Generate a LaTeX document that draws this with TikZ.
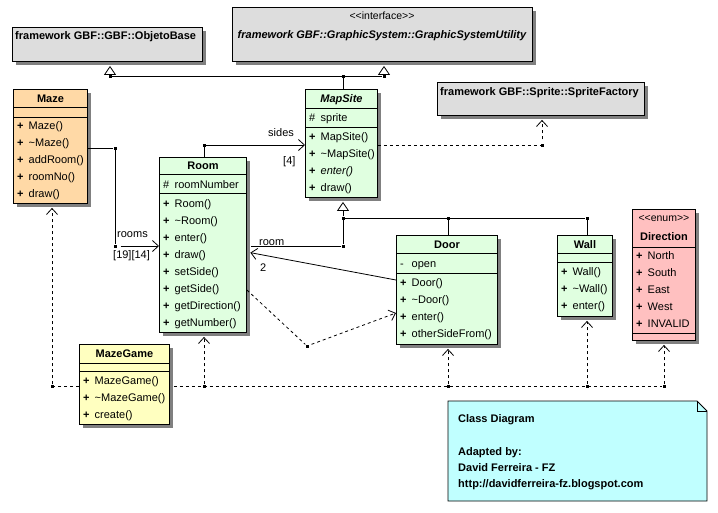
\documentclass[tikz,border=0pt]{standalone}
\usepackage{fontspec}
\setmainfont{Liberation Sans}
\usetikzlibrary{arrows.meta,shadows}

\definecolor{mazeorange}{RGB}{255,217,166}
\definecolor{sitegreen}{RGB}{224,255,224}
\definecolor{gameyellow}{RGB}{255,255,192}
\definecolor{enumpink}{RGB}{255,192,192}
\definecolor{fwgray}{RGB}{221,221,221}
\definecolor{notecyan}{RGB}{192,255,255}

\begin{document}
\begin{tikzpicture}[x=1pt,y=-1pt,
        font=\fontsize{11}{13}\selectfont,
        classbox/.style={draw,line width=0.9pt,anchor=north west,inner sep=0pt,
            general shadow={fill=black!50,shadow xshift=4pt,shadow yshift=-4pt}},
        title/.style={anchor=base,inner sep=0pt,font=\fontsize{11}{13}\selectfont\bfseries},
        stereo/.style={anchor=base,inner sep=0pt,font=\fontsize{10.5}{12}\selectfont},
        member/.style={anchor=base west,inner sep=0pt},
        rolename/.style={member},
        divider/.style={line width=0.9pt},
        wire/.style={line width=0.8pt},
        assoc/.style={wire,-{Straight Barb[length=6pt,width=11pt]}},
        gen/.style={wire,-{Triangle[fill=white,length=9pt,width=12pt]}},
        dep/.style={wire,dash pattern=on 3pt off 3pt,-{Straight Barb[length=6pt,width=11pt]}},
        joint/.style={rectangle,fill,inner sep=0pt,minimum size=3pt}]
    \path[use as bounding box] (0,0) rectangle (718,512);

    % Framework classes on top
    \node[classbox,fill=fwgray,minimum width=190pt,minimum height=34pt] (objbase) at (12,27) {};
    \node[member,font=\fontsize{11}{13}\selectfont\bfseries] (objbase-name) at (15,39) {framework GBF::GBF::ObjetoBase};
    \node[classbox,fill=fwgray,minimum width=300pt,minimum height=54pt] (gsu) at (232,7) {};
    \node[stereo] (gsu-stereo) at (382,19) {<\kern0pt<interface>\kern0pt>};
    \node[title,font=\fontsize{11}{13}\selectfont\bfseries\itshape] (gsu-name) at (382,38) {framework GBF::GraphicSystem::GraphicSystemUtility};
    \node[classbox,fill=fwgray,minimum width=207pt,minimum height=33pt] (sprite) at (437,82) {};
    \node[member,font=\fontsize{11}{13}\selectfont\bfseries] (sprite-name) at (440,95) {framework GBF::Sprite::SpriteFactory};

    % Maze
    \node[classbox,fill=mazeorange,minimum width=74pt,minimum height=114pt] (maze) at (13,89) {};
    \draw[divider] (maze.west |- 0,107) -- (maze.east |- 0,107) (maze.west |- 0,117) -- (maze.east |- 0,117);
    \node[title] (maze-name) at (maze.north |- 0,102) {Maze};
    \foreach \m [count=\i from 0] in {Maze(),\textasciitilde Maze(),addRoom(),roomNo(),draw()}
        \node[member] (maze-op\i) at (17,129+17*\i) {\makebox[11.5pt][l]{\bfseries+}\m};

    % Room
    \node[classbox,fill=sitegreen,minimum width=87pt,minimum height=175pt] (room) at (159,157) {};
    \draw[divider] (room.west |- 0,174) -- (room.east |- 0,174) (room.west |- 0,193) -- (room.east |- 0,193);
    \node[title] (room-name) at (room.north |- 0,169) {Room};
    \node[member] (room-attr) at (163,188) {\makebox[11.5pt][l]{\#}roomNumber};
    \foreach \m [count=\i from 0] in {Room(),\textasciitilde Room(),enter(),draw(),setSide(),getSide(),getDirection(),getNumber()}
        \node[member] (room-op\i) at (163,207+17*\i) {\makebox[11.5pt][l]{\bfseries+}\m};

    % MapSite
    \node[classbox,fill=sitegreen,minimum width=72pt,minimum height=108pt] (mapsite) at (305,89) {};
    \draw[divider] (mapsite.west |- 0,108) -- (mapsite.east |- 0,108) (mapsite.west |- 0,127) -- (mapsite.east |- 0,127);
    \node[title,font=\fontsize{11}{13}\selectfont\bfseries\itshape] (mapsite-name) at (mapsite.north |- 0,102) {MapSite};
    \node[member] (mapsite-attr) at (309,121) {\makebox[11.5pt][l]{\#}sprite};
    \foreach \m [count=\i from 0] in {MapSite(),\textasciitilde MapSite(),\textit{enter()},draw()}
        \node[member] (mapsite-op\i) at (309,140+17*\i) {\makebox[11.5pt][l]{\bfseries+}\m};

    % Door
    \node[classbox,fill=sitegreen,minimum width=101pt,minimum height=109pt] (door) at (396,235) {};
    \draw[divider] (door.west |- 0,253) -- (door.east |- 0,253) (door.west |- 0,273) -- (door.east |- 0,273);
    \node[title] (door-name) at (door.north |- 0,248) {Door};
    \node[member] (door-attr) at (400,267) {\makebox[11.5pt][l]{-}open};
    \foreach \m [count=\i from 0] in {Door(),\textasciitilde Door(),enter(),otherSideFrom()}
        \node[member] (door-op\i) at (400,286+17*\i) {\makebox[11.5pt][l]{\bfseries+}\m};

    % Wall
    \node[classbox,fill=sitegreen,minimum width=55pt,minimum height=81pt] (wall) at (557,235) {};
    \draw[divider] (wall.west |- 0,253) -- (wall.east |- 0,253) (wall.west |- 0,262) -- (wall.east |- 0,262);
    \node[title] (wall-name) at (wall.north |- 0,248) {Wall};
    \foreach \m [count=\i from 0] in {Wall(),\textasciitilde Wall(),enter()}
        \node[member] (wall-op\i) at (561,275+17*\i) {\makebox[11.5pt][l]{\bfseries+}\m};

    % Direction
    \node[classbox,fill=enumpink,minimum width=63pt,minimum height=131pt] (direction) at (632,209) {};
    \draw[divider] (direction.west |- 0,247) -- (direction.east |- 0,247) (direction.west |- 0,333) -- (direction.east |- 0,333);
    \node[stereo] (direction-stereo) at (direction.north |- 0,221) {<\kern0pt<enum>\kern0pt>};
    \node[title] (direction-name) at (direction.north |- 0,240) {Direction};
    \foreach \m [count=\i from 0] in {North,South,East,West,INVALID}
        \node[member] (direction-lit\i) at (636,259+17*\i) {\makebox[11.5pt][l]{\bfseries+}\m};

    % MazeGame
    \node[classbox,fill=gameyellow,minimum width=90pt,minimum height=80pt] (mazegame) at (79,344) {};
    \draw[divider] (mazegame.west |- 0,363) -- (mazegame.east |- 0,363) (mazegame.west |- 0,371) -- (mazegame.east |- 0,371);
    \node[title] (mazegame-name) at (mazegame.north |- 0,357) {MazeGame};
    \foreach \m [count=\i from 0] in {MazeGame(),\textasciitilde MazeGame(),create()}
        \node[member] (mazegame-op\i) at (83,384+17*\i) {\makebox[11.5pt][l]{\bfseries+}\m};

    % Note
    \draw[line width=0.9pt,fill=notecyan] (448,401) -- (697,401) -- (707,411) -- (707,501) -- (448,501) -- cycle;
    \draw[line width=0.6pt] (697,401) -- (697,411) -- (707,411);
    \node[member,font=\fontsize{11}{13}\selectfont\bfseries] (note-title) at (458,422) {Class Diagram};
    \foreach \t [count=\i from 0] in {Adapted by:,David Ferreira - FZ,http://davidferreira-fz.blogspot.com}
        \node[member,font=\fontsize{11}{13}\selectfont\bfseries] (note-line\i) at (458,455+16*\i) {\t};

    % Joints
    \node[joint] (jb1) at (110,76) {};
    \node[joint] (jb2) at (343,76) {};
    \node[joint] (jb3) at (384,76) {};
    \node[joint] (jr1) at (115,148) {};
    \node[joint] (jr2) at (115,246) {};
    \node[joint] (js) at (204,145) {};
    \node[joint] (jg1) at (343,218) {};
    \node[joint] (jg2) at (343,246) {};
    \node[joint] (jg3) at (448,218) {};
    \node[joint] (jg4) at (587,218) {};
    \node[joint] (jd) at (307,346) {};
    \node[joint] (jsp) at (542,145) {};
    \node[joint] (jmg1) at (52,386) {};
    \node[joint] (jmg2) at (204,386) {};
    \node[joint] (jmg3) at (448,386) {};
    \node[joint] (jmg4) at (587,386) {};
    \node[joint] (jmg5) at (664,386) {};

    % Inheritance from the framework
    \draw[wire] (jb1) -- (jb3);
    \draw[wire] (jb2 |- mapsite.north) -- (jb2);
    \draw[gen,shorten >=4pt] (jb1) -- (jb1 |- objbase.south);
    \draw[gen,shorten >=4pt] (jb3) -- (jb3 |- gsu.south);

    % Subclasses of MapSite
    \draw[gen,shorten >=4pt] (jg1) -- (jg1 |- mapsite.south);
    \draw[wire] (jg1) -- (jg4);
    \draw[wire] (jg1) -- (jg2);
    \draw[wire,shorten >=4pt] (jg2) -- (room.east |- jg2);
    \draw[wire] (jg3) -- (jg3 |- door.north);
    \draw[wire] (jg4) -- (jg4 |- wall.north);

    % Associations
    \draw[assoc,shorten <=4pt] (maze.east |- jr1) -- (jr1) -- (jr2) -- (room.west |- jr2);
    \node[rolename] (rooms-role) at (117,237) {rooms};
    \node[rolename] (rooms-mult) at (113,258) {[19][14]};
    \draw[assoc] (js |- room.north) -- (js) -- (mapsite.west |- js);
    \node[rolename] (sides-role) at (268,136) {sides};
    \node[rolename] (sides-mult) at (283,164) {[4]};
    \draw[assoc,shorten >=3.5pt] (door.west |- 0,280) -- (room.east |- 0,252);
    \node[rolename] (room-role) at (259,245) {room};
    \node[rolename] (room-mult) at (260,271) {2};

    % Dependencies
    \draw[dep,shorten <=3pt] (room.east |- 0,290) -- (jd) -- (door.west |- 0,313);
    \draw[dep,shorten <=4pt,shorten >=4pt] (mapsite.east |- jsp) -- (jsp) -- (jsp |- sprite.south);
    \draw[wire,dash pattern=on 3pt off 3pt] (mazegame.west |- jmg1) -- (jmg1);
    \draw[wire,dash pattern=on 3pt off 3pt,shorten <=4pt] (mazegame.east |- jmg1) -- (jmg5);
    \draw[dep,shorten >=4pt] (jmg1) -- (jmg1 |- maze.south);
    \draw[dep,shorten >=4pt] (jmg2) -- (jmg2 |- room.south);
    \draw[dep,shorten >=4pt] (jmg3) -- (jmg3 |- door.south);
    \draw[dep,shorten >=4pt] (jmg4) -- (jmg4 |- wall.south);
    \draw[dep,shorten >=4pt] (jmg5) -- (jmg5 |- direction.south);
\end{tikzpicture}
\end{document}
